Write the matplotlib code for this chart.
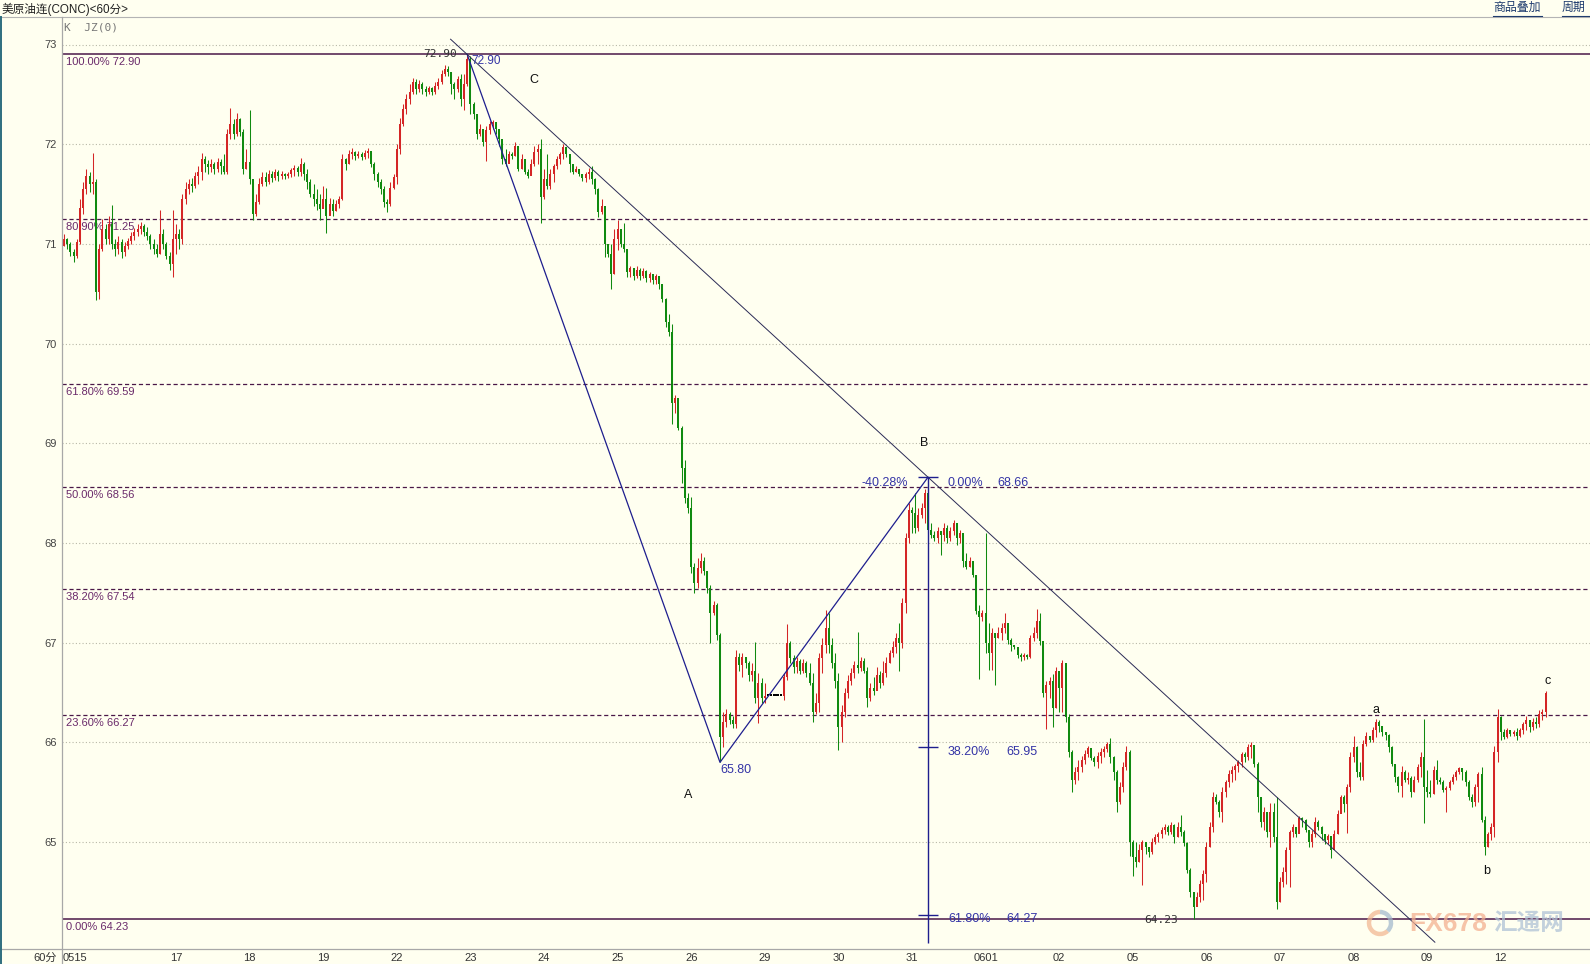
import matplotlib
matplotlib.use('Agg')
import matplotlib.pyplot as plt
import numpy as np
from matplotlib.lines import Line2D
from matplotlib.patches import Arc

plt.rcParams['font.family'] = ['Liberation Sans', 'Noto Sans CJK SC', 'DejaVu Sans']
plt.rcParams['lines.scale_dashes'] = False

# ---------------- data: hourly candles (close, high, low) per trading day ----------------
day_names = ['0515', '16', '17', '18', '19', '22', '23', '24', '25', '26', '29', '30', '31',
             '0601', '02', '05', '06', '07', '08', '09', '12']
shown_labels = ['0515', '17', '18', '19', '22', '23', '24', '25', '26', '29', '30', '31',
                '0601', '02', '05', '06', '07', '08', '09', '12']
first_open = 70.98

d0515 = [(71.05,71.10,70.98),(71.00,71.06,70.95),(70.92,71.02,70.88),(70.88,70.95,70.82),(71.02,71.05,70.86),
         (71.36,71.45,71.00),(71.55,71.62,71.30),(71.68,71.75,71.50),(71.60,71.72,71.52),(71.62,71.91,71.50),
         (70.52,71.65,70.44),(70.95,71.00,70.45)]
d0516 = [(71.15,71.25,70.93),(71.05,71.20,71.00),(71.20,71.28,71.00),(71.00,71.39,70.95),(70.95,71.05,70.88),
         (71.02,71.08,70.90),(70.92,71.05,70.86),(70.98,71.02,70.88),(71.03,71.06,70.95),(71.08,71.12,71.00),
         (71.12,71.16,71.04),(71.15,71.20,71.08),(71.18,71.22,71.10),(71.12,71.20,71.08),(71.08,71.17,71.04),
         (71.00,71.10,70.95),(70.95,71.05,70.90),(70.90,71.00,70.87),(71.10,71.34,70.90),(71.00,71.15,70.95),
         (70.88,71.02,70.85),(70.80,70.92,70.74),(71.05,71.34,70.67)]
d0517 = [(71.10,71.20,70.90),(71.05,71.15,70.95),(71.45,71.50,71.00),(71.55,71.62,71.40),(71.60,71.65,71.50),
         (71.58,71.66,71.52),(71.68,71.72,71.56),(71.72,71.78,71.60),(71.85,71.91,71.64),(71.80,71.88,71.72),
         (71.77,71.84,71.70),(71.80,71.85,71.72),(71.75,71.82,71.70),(71.82,71.86,71.72),(71.78,71.85,71.70),
         (71.72,71.90,71.70),(72.10,72.15,71.70),(72.20,72.36,72.05),(72.10,72.25,72.05),(72.25,72.31,72.08),
         (72.12,72.26,72.08),(71.75,72.15,71.70),(71.82,71.95,71.75)]
d0518 = [(71.65,72.34,71.60),(71.30,71.62,71.24),(71.42,71.50,71.28),(71.60,71.66,71.40),(71.67,71.72,71.58),
         (71.62,71.72,71.58),(71.70,71.74,71.60),(71.66,71.73,71.62),(71.72,71.75,71.64),(71.68,71.74,71.63),
         (71.70,71.73,71.65),(71.68,71.71,71.65),(71.70,71.72,71.66),(71.74,71.76,71.67),(71.76,71.79,71.68),
         (71.72,71.78,71.68),(71.80,71.86,71.68),(71.70,71.82,71.64),(71.62,71.75,71.55),(71.50,71.65,71.47),
         (71.45,71.60,71.38),(71.40,71.55,71.34),(71.35,71.50,71.24)]
d0519 = [(71.45,71.58,71.38),(71.28,71.56,71.11),(71.40,71.46,71.30),(71.33,71.45,71.28),(71.40,71.44,71.33),
         (71.45,71.48,71.36),(71.85,71.90,71.44),(71.80,71.86,71.74),(71.90,71.94,71.80),(71.92,71.96,71.85),
         (71.88,71.93,71.84),(71.90,71.93,71.86),(71.87,71.92,71.84),(71.91,71.94,71.85),(71.93,71.96,71.86),
         (71.80,71.92,71.77),(71.70,71.82,71.64),(71.62,71.72,71.57),(71.55,71.65,71.50),(71.42,71.58,71.37),
         (71.40,71.45,71.32),(71.56,71.62,71.38),(71.67,71.70,71.55)]
d0522 = [(71.95,72.00,71.60),(72.20,72.26,71.90),(72.35,72.40,72.18),(72.45,72.50,72.30),(72.52,72.60,72.40),
         (72.62,72.66,72.50),(72.55,72.65,72.50),(72.60,72.64,72.52),(72.55,72.62,72.50),(72.52,72.58,72.48),
         (72.56,72.58,72.50),(72.52,72.57,72.49),(72.58,72.62,72.50),(72.62,72.66,72.55),(72.70,72.74,72.60),
         (72.75,72.79,72.68),(72.72,72.78,72.68),(72.60,72.72,72.50),(72.55,72.62,72.45),(72.65,72.68,72.52),
         (72.45,72.70,72.38),(72.60,72.70,72.34),(72.85,72.90,72.58)]
d0523 = [(72.40,72.88,72.30),(72.30,72.42,72.25),(72.10,72.30,72.05),(72.15,72.20,72.08),(72.02,72.15,71.98),
         (72.14,72.18,71.83),(72.20,72.23,72.10),(72.22,72.24,72.15),(72.15,72.22,72.10),(72.05,72.14,71.98),
         (71.85,72.02,71.80),(71.80,71.95,71.78),(71.90,71.93,71.85),(71.88,71.92,71.85),(71.98,72.02,71.88),
         (71.75,71.98,71.73),(71.85,71.90,71.75),(71.72,71.85,71.70),(71.68,71.75,71.66),(71.80,71.85,71.70),
         (71.92,71.98,71.78),(71.95,72.00,71.80),(71.47,72.05,71.21)]
d0524 = [(71.65,71.75,71.45),(71.58,71.90,71.55),(71.70,71.75,71.55),(71.78,71.80,71.62),(71.85,71.88,71.75),
         (71.90,71.92,71.80),(71.97,72.00,71.85),(71.90,71.95,71.87),(71.80,71.88,71.72),(71.72,71.78,71.70),
         (71.75,71.78,71.72),(71.70,71.74,71.68),(71.66,71.70,71.63),(71.70,71.72,71.62),(71.72,71.76,71.65),
         (71.65,71.78,71.60),(71.55,71.66,71.50),(71.32,71.56,71.27),(71.38,71.45,71.30),(71.00,71.30,70.87),
         (70.90,71.00,70.87),(70.70,71.00,70.55),(71.05,71.15,70.70)]
d0525 = [(71.15,71.24,70.94),(71.00,71.14,70.97),(70.95,71.21,70.92),(70.72,70.94,70.67),(70.76,70.78,70.67),
         (70.68,70.76,70.64),(70.74,70.78,70.66),(70.68,70.76,70.64),(70.73,70.76,70.66),(70.66,70.74,70.62),
         (70.70,70.72,70.62),(70.64,70.70,70.60),(70.68,70.70,70.60),(70.60,70.68,70.55),(70.45,70.60,70.42),
         (70.22,70.46,70.17),(70.12,70.30,70.08),(69.40,70.20,69.19),(69.45,69.48,69.30),(69.15,69.44,69.13),
         (68.75,69.17,68.60),(68.45,68.83,68.40),(68.35,68.50,68.30)]
d0526 = [(67.76,68.46,67.70),(67.60,67.80,67.50),(67.75,67.85,67.55),(67.82,67.90,67.70),(67.72,67.86,67.68),
         (67.55,67.72,67.50),(67.30,67.58,67.00),(67.38,67.42,67.28),(67.08,67.40,67.03),(66.05,67.10,65.80),
         (66.20,66.30,65.95),(66.28,66.34,66.15),(66.22,66.30,66.18),(66.18,66.26,66.14),(66.86,66.93,66.14),
         (66.78,66.90,66.72),(66.86,66.90,66.66),(66.80,66.86,66.75),(66.68,66.82,66.62),(66.72,66.80,66.62),
         (66.45,67.01,66.40),(66.60,66.70,66.19),(66.45,66.65,66.40)]
d0529 = [(66.47,66.60,66.40),(66.47,66.47,66.47),(66.47,66.47,66.47),(66.47,66.47,66.47),(66.47,66.47,66.47),
         (66.47,66.47,66.47),(66.66,66.70,66.43),(67.00,67.19,66.63),(66.85,67.02,66.80),(66.76,66.88,66.70),
         (66.82,66.86,66.70),(66.72,66.84,66.69),(66.80,66.84,66.70),(66.70,66.82,66.66),(66.60,66.80,66.58),
         (66.30,66.70,66.20),(66.40,66.50,66.28),(66.85,66.90,66.30),(66.98,67.05,66.70),(67.15,67.33,66.90),
         (66.98,67.30,66.90),(66.80,67.05,66.75),(66.62,66.90,66.55)]
d0530 = [(66.15,66.70,65.92),(66.30,66.38,66.00),(66.50,66.55,66.25),(66.62,66.68,66.45),(66.70,66.75,66.58),
         (66.78,66.82,66.65),(66.75,67.11,66.70),(66.82,66.86,66.72),(66.72,66.85,66.70),(66.45,66.76,66.36),
         (66.55,66.60,66.42),(66.52,66.66,66.48),(66.68,66.76,66.55),(66.60,66.72,66.55),(66.70,66.82,66.58),
         (66.80,66.86,66.66),(66.90,66.93,66.80),(66.96,67.02,66.86),(67.05,67.10,66.90),(67.00,67.20,66.72),
         (67.40,67.45,66.95),(68.05,68.10,67.30),(68.33,68.40,68.00)]
d0531 = [(68.30,68.36,68.10),(68.15,68.50,68.10),(68.28,68.35,68.12),(68.35,68.40,68.25),(68.50,68.54,68.20),
         (68.13,68.66,68.10),(68.08,68.20,68.05),(68.05,68.12,68.02),(68.12,68.16,68.00),(68.08,68.12,67.88),
         (68.15,68.20,68.02),(68.05,68.18,68.00),(68.12,68.16,68.02),(68.20,68.23,68.08),(68.05,68.18,67.98),
         (68.10,68.13,68.00),(67.82,68.08,67.76),(67.76,67.90,67.74),(67.82,67.86,67.76),(67.68,67.78,67.66),
         (67.32,67.68,67.29),(67.26,67.38,66.64),(67.30,67.33,67.22)]
d0601 = [(67.00,68.10,66.90),(66.90,67.20,66.73),(67.10,67.15,66.73),(67.05,67.10,66.58),(67.10,67.16,67.05),
         (67.15,67.20,67.03),(67.20,67.30,67.10),(67.03,67.18,66.99),(66.98,67.05,66.92),(66.96,66.98,66.94),
         (66.88,66.96,66.85),(66.86,66.90,66.82),(66.88,66.90,66.83),(66.86,66.89,66.84),(67.05,67.08,66.85),
         (67.10,67.16,67.02),(67.22,67.34,67.05),(67.02,67.30,66.98),(66.50,66.98,66.46),(66.58,66.62,66.13),
         (66.62,66.66,66.45),(66.35,66.69,66.15),(66.72,66.76,66.35)]
d0602 = [(66.55,66.62,66.30),(66.80,66.83,66.30),(66.25,66.60,66.20),(65.90,66.28,65.85),(65.62,65.92,65.50),
         (65.70,65.75,65.58),(65.75,65.82,65.62),(65.82,65.86,65.70),(65.88,65.92,65.78),(65.94,65.96,65.85),
         (65.84,65.90,65.82),(65.80,65.86,65.76),(65.86,65.90,65.74),(65.90,65.94,65.79),(65.93,65.96,65.85),
         (65.98,66.00,65.90),(65.85,66.04,65.79),(65.70,65.86,65.62),(65.40,65.72,65.30),(65.55,65.60,65.38),
         (65.75,65.80,65.50),(65.90,65.96,65.72),(65.00,65.92,64.86)]
d0605 = [(64.85,65.02,64.66),(64.80,65.00,64.75),(64.92,64.98,64.80),(65.00,65.02,64.57),(64.95,65.00,64.88),
         (64.90,64.95,64.85),(65.00,65.04,64.88),(65.05,65.08,64.98),(65.08,65.10,65.00),(65.12,65.15,65.04),
         (65.15,65.18,65.08),(65.10,65.17,65.07),(65.17,65.20,65.08),(65.05,65.18,64.99),(65.15,65.20,65.05),
         (65.10,65.27,65.06),(64.99,65.12,64.96),(64.72,65.00,64.69),(64.50,64.74,64.45),(64.35,64.50,64.23),
         (64.45,64.50,64.42),(64.58,64.62,64.40),(64.68,64.72,64.42)]
d0606 = [(64.95,65.00,64.60),(65.15,65.20,64.95),(65.45,65.50,65.10),(65.40,65.48,65.38),(65.30,65.42,65.25),
         (65.50,65.55,65.20),(65.60,65.62,65.45),(65.68,65.72,65.55),(65.72,65.76,65.60),(65.76,65.78,65.62),
         (65.80,65.82,65.70),(65.88,65.90,65.75),(65.85,65.90,65.80),(65.95,65.98,65.82),(65.97,66.00,65.84),
         (65.78,65.90,65.75),(65.45,65.80,65.30),(65.20,65.45,65.15),(65.30,65.35,65.12),(65.10,65.30,65.05),
         (65.30,65.39,64.95),(65.05,65.39,65.00),(64.40,65.45,64.33)]
d0607 = [(64.60,64.65,64.40),(64.70,64.75,64.55),(64.92,64.95,64.58),(65.10,65.12,64.55),(65.15,65.18,65.05),
         (65.08,65.15,65.05),(65.24,65.26,65.10),(65.22,65.25,65.15),(65.12,65.23,65.10),(65.00,65.12,64.95),
         (65.08,65.12,64.95),(65.20,65.25,65.05),(65.15,65.22,65.12),(65.08,65.16,65.02),(65.02,65.06,64.98),
         (65.06,65.08,64.98),(64.92,65.00,64.84),(65.08,65.12,64.95),(65.28,65.32,65.08),(65.45,65.47,65.30),
         (65.38,65.47,65.30),(65.55,65.58,65.09),(65.85,65.90,65.50)]
d0608 = [(65.95,66.06,65.80),(65.70,65.96,65.65),(65.65,65.80,65.62),(65.98,66.02,65.62),(66.06,66.10,65.96),
         (66.02,66.06,66.00),(66.12,66.15,66.00),(66.20,66.23,66.05),(66.16,66.22,66.10),(66.10,66.16,66.06),
         (66.07,66.10,66.02),(65.95,66.08,65.90),(65.78,65.96,65.76),(65.65,65.78,65.60),(65.56,65.66,65.50),
         (65.70,65.76,65.45),(65.62,65.72,65.60),(65.64,65.70,65.58),(65.50,65.66,65.45),(65.62,65.66,65.50),
         (65.75,65.78,65.60),(65.85,65.90,65.65),(65.55,66.23,65.19)]
d0609 = [(65.50,65.72,65.45),(65.48,65.62,65.45),(65.72,65.76,65.48),(65.62,65.82,65.58),(65.60,65.65,65.58),
         (65.52,65.62,65.50),(65.54,65.56,65.30),(65.60,65.62,65.52),(65.65,65.68,65.58),(65.70,65.72,65.62),
         (65.74,65.75,65.68),(65.70,65.74,65.62),(65.60,65.72,65.56),(65.45,65.62,65.42),(65.40,65.48,65.35),
         (65.55,65.58,65.36),(65.68,65.70,65.40),(65.22,65.75,65.20),(64.95,65.26,64.87),(65.08,65.10,64.95),
         (65.15,65.19,65.02),(65.90,65.96,65.05),(66.25,66.33,65.80)]
d0612 = [(66.10,66.26,66.02),(66.05,66.13,66.03),(66.12,66.14,66.04),(66.08,66.12,66.06),(66.10,66.12,66.06),
         (66.06,66.14,66.02),(66.12,66.14,66.05),(66.18,66.20,66.08),(66.22,66.26,66.12),(66.15,66.22,66.10),
         (66.20,66.24,66.12),(66.18,66.25,66.14),(66.28,66.32,66.15),(66.30,66.34,66.22),(66.50,66.52,66.25)]

days = [d0515, d0516, d0517, d0518, d0519, d0522, d0523, d0524, d0525, d0526, d0529, d0530,
        d0531, d0601, d0602, d0605, d0606, d0607, d0608, d0609, d0612]

fib_pcts = ['100.00%', '80.90%', '61.80%', '50.00%', '38.20%', '23.60%', '0.00%']
fib_vals = [72.90, 71.25, 69.59, 68.56, 67.54, 66.27, 64.23]
proj_pcts = ['38.20%', '61.80%']
proj_vals = [65.95, 64.27]
ab_pct = '-40.28%'
y_ticks = [65, 66, 67, 68, 69, 70, 71, 72, 73]

# ---------------- build arrays ----------------
closes, highs, lows, day_start = [], [], [], []
for d in days:
    day_start.append(len(closes))
    for c, h, l in d:
        closes.append(c); highs.append(h); lows.append(l)
c = np.array(closes); h = np.array(highs); l = np.array(lows)
o = np.concatenate([[first_open], c[:-1]])
n = len(c)
x = np.arange(n)

# ---------------- figure ----------------
W, H = 1590, 964
BG = '#FFFFF0'
fig = plt.figure(figsize=(W / 100, H / 100), dpi=100)
fig.patch.set_facecolor(BG)
L, B, T = 62.3, 949, 17
ax = fig.add_axes([L / W, 1 - B / H, (W - L) / W, (B - T) / H])
ax.set_facecolor(BG)
px = 3.2
ax.set_xlim((L - 64) / px, (W - 64) / px)
ax.set_ylim(72 - (B - 144.2) / 99.7, 72 - (T - 144.2) / 99.7)
for s in ax.spines.values():
    s.set_visible(False)

# gridlines
for v in y_ticks:
    ax.axhline(v, color='#B8B8A8', lw=0.8, ls=(0, (0.8, 1.6)), zorder=1)

# fibonacci levels
PURPLE = '#4A1848'
for p, v in zip(fib_pcts, fib_vals):
    solid = p in ('100.00%', '0.00%')
    ax.axhline(v, color=PURPLE, lw=1.1 if solid else 0.9,
               ls='-' if solid else (0, (3.0, 2.0)), zorder=1.5)
    ax.annotate(f'{p} {v:.2f}', xy=(0.0024, v), xycoords=ax.get_yaxis_transform(),
                xytext=(0, -2.0), textcoords='offset points', ha='left', va='top',
                fontsize=8, color='#6A2A6A', zorder=1.6)

# candles
RED, GREEN = '#D42626', '#108A10'
up = c > o + 0.004
dn = c < o - 0.004
fl = ~(up | dn)
bot = np.minimum(o, c)
hgt = np.maximum(np.abs(c - o), 0.012)
for mask, col in ((up, RED), (dn, GREEN), (fl, '#000000')):
    ax.vlines(x[mask], l[mask], h[mask], color=col, lw=0.75, zorder=3)
    ax.bar(x[mask], hgt[mask], bottom=bot[mask], width=0.64 if col != '#000000' else 0.75,
           color=col, linewidth=0, zorder=4)

# key swing points from the data
pk = int(np.argmax(h))
ai = int(np.argmin(l[:300]))
bi = 250 + int(np.argmax(h[250:300]))
lo = int(np.argmin(l))
sa = 400 + int(np.argmax(h[400:420]))
sb = 435 + int(np.argmin(l[435:449]))
sc = n - 1

NAVY = '#1E1E8E'
ax.plot([pk, ai, bi], [h[pk], l[ai], h[bi]], color=NAVY, lw=0.9, zorder=5)
# trendline through peak and B
slope = (h[bi] - h[pk]) / (bi - pk)
tx = np.array([pk - 5.2, pk + 302.4])
ax.plot(tx, h[pk] + slope * (tx - pk), color='#2A2A55', lw=0.7, zorder=5)
# projection ruler at B
ax.vlines(bi, 63.99, h[bi], color=NAVY, lw=1.0, zorder=5)
for v in [h[bi]] + proj_vals:
    ax.hlines(v, bi - 3, bi + 3, color=NAVY, lw=1.0, zorder=5)

BLUE_T = '#3434A6'
pt = 0.72
def ann(s, xi, yv, dx, dy, ha='center', va='center', color='#111111', size=9, family=None):
    kw = {}
    if family:
        kw['family'] = family
    ax.annotate(s, xy=(xi, yv), xytext=(dx * pt, dy * pt), textcoords='offset points',
                ha=ha, va=va, color=color, fontsize=size, zorder=6, **kw)

ann(f'{h[pk]:.2f}', pk, h[pk], -27, 0, color='#333333', size=8, family='DejaVu Sans Mono')
ann(f'{h[pk]:.2f}', pk, h[pk], 19, -6.5, color=BLUE_T, size=8.5)
ann('C', pk, h[pk], 67, -25.5, size=9)
ann(f'{l[ai]:.2f}', ai, l[ai], 0, -8, ha='left', color=BLUE_T, size=9)
ann('A', ai, l[ai], -32, -33, size=9)
ann('B', bi, h[bi], -4, 34, size=9)
ann(ab_pct, bi, h[bi], -20, -6, ha='right', color=BLUE_T, size=9)
ann('0.00%', bi, h[bi], 20, -6, ha='left', color=BLUE_T, size=9)
ann(f'{h[bi]:.2f}', bi, h[bi], 69, -6, ha='left', color=BLUE_T, size=9)
for p, v in zip(proj_pcts, proj_vals):
    ann(p, bi, v, 20, -4.5, ha='left', color=BLUE_T, size=9)
    ann(f'{v:.2f}', bi, v, 78, -4.5, ha='left', color=BLUE_T, size=9)
ann(f'{l[lo]:.2f}', lo, l[lo], -32, -1, color='#333333', size=8, family='DejaVu Sans Mono')
ann('a', sa, h[sa], 0, 9, size=9)
ann('b', sb, l[sb], 2, -16, size=9)
ann('c', sc, h[sc], 2, 10, size=9)

# axes ticks
ax.set_yticks(y_ticks)
ax.set_yticklabels([str(v) for v in y_ticks], fontsize=8, color='#444444')
ax.tick_params(axis='y', length=0, pad=4.2)
tick_pos = [(75 - 64) / px] + [day_start[k] for k, nm in enumerate(day_names) if nm in shown_labels and nm != '0515']
ax.set_xticks(tick_pos)
ax.set_xticklabels(shown_labels, fontsize=8, color='#333333')
ax.tick_params(axis='x', length=0, pad=3.0)

# frame lines
def fline(x0, y0, x1, y1, color, lw):
    fig.add_artist(Line2D([x0 / W, x1 / W], [1 - y0 / H, 1 - y1 / H], color=color, lw=lw,
                          transform=fig.transFigure))
fline(0, T, W, T, '#B4B4B4', 0.8)
fline(0, B, W, B, '#A8A8A8', 0.9)
fline(L, T, L, H, '#A8A8A8', 0.9)
fline(0.8, T, 0.8, H, '#2E6E7E', 1.4)

# header texts
fig.text(2 / W, 1 - 9 / H, '美原油连(CONC)<60分>', fontsize=8.4, color='#222222', va='center', ha='left')
fig.text(64 / W, 1 - 28 / H, 'K  JZ(0)', fontsize=8, color='#777777', va='center', ha='left',
         family='DejaVu Sans Mono')
fig.text(1493 / W, 1 - 8 / H, '商品叠加', fontsize=8.6, color='#1F3C6E', va='center', ha='left')
fline(1493, 15.5, 1542, 15.5, '#1F3C6E', 0.8)
fig.text(1562 / W, 1 - 8 / H, '周期', fontsize=8.6, color='#1F3C6E', va='center', ha='left')
fline(1562, 15.5, 1590, 15.5, '#1F3C6E', 0.8)
fig.text(57 / W, 1 - 958 / H, '60分', fontsize=8, color='#333333', va='center', ha='right')

# watermark
fig.add_artist(Arc((1380 / W, 1 - 923 / H), 22 / W, 22 / H, theta1=90, theta2=300,
                   color='#F2B48E', lw=3.2, alpha=0.7, transform=fig.transFigure))
fig.add_artist(Arc((1380 / W, 1 - 923 / H), 22 / W, 22 / H, theta1=300, theta2=450,
                   color='#9FB6CC', lw=3.2, alpha=0.7, transform=fig.transFigure))
fig.text(1409 / W, 1 - 924 / H, 'FX678', fontsize=19, fontweight='bold', color='#F4B090',
         alpha=0.75, va='center', ha='left')
fig.text(1493 / W, 1 - 924 / H, '汇通网', fontsize=17, fontweight='bold', color='#AFC2D6',
         alpha=0.75, va='center', ha='left')

fig.savefig('out.png', dpi=100, facecolor=BG)
